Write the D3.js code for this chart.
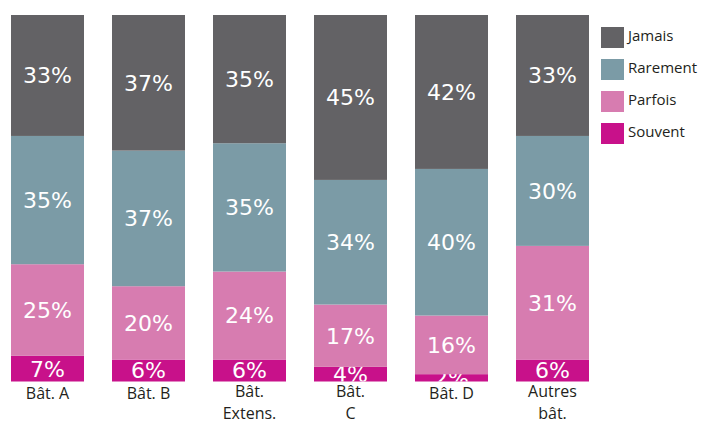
<!DOCTYPE html>
<head>
  <meta charset="utf-8">
  <title>Fréquence par bâtiment</title>
</head>
<style>
body {
  margin: 0;
  background: #fff;
}
.pct {
  font: 22px "DejaVu Sans", sans-serif;
  fill: #fff;
}
.cat, .leg {
  font-family: "Open Sans", sans-serif;
  fill: #231f20;
}
</style>
<body>
<div id="chart"></div>

<script src="https://d3js.org/d3.v7.min.js"></script>
<script>

// data
var categories = ["Bât. A", "Bât. B", "Bât. Extens.", "Bât. C", "Bât. D", "Autres bât."];
var catLines = [["Bât. A"], ["Bât. B"], ["Bât.", "Extens."], ["Bât.", "C"], ["Bât. D"], ["Autres", "bât."]];
var series = ["Souvent", "Parfois", "Rarement", "Jamais"];   // bottom -> top
var souvent  = [7, 6, 6, 4, 2, 6];
var parfois  = [25, 20, 24, 17, 16, 31];
var rarement = [35, 37, 35, 34, 40, 30];
var jamais   = [33, 37, 35, 45, 42, 33];
var colors = ["#c8118a", "#d77cb0", "#7b9ba6", "#636265"];
var legendOrder = ["Jamais", "Rarement", "Parfois", "Souvent"];

var width = 702, height = 423;

var svg = d3.select("#chart")
    .append("svg")
    .attr("width", width)
    .attr("height", height);

// build rows for the stack
var rows = categories.map(function(c, i) {
  return { cat: c, Souvent: souvent[i], Parfois: parfois[i], Rarement: rarement[i], Jamais: jamais[i] };
});
var stacked = d3.stack().keys(series)(rows);

var x = d3.scaleBand().domain(categories).range([11, 589]).paddingInner(28 / 101).paddingOuter(0);
var y = d3.scaleLinear().domain([0, 100]).range([381.5, 15]);
var color = d3.scaleOrdinal().domain(series).range(colors);

// one clip per column so labels of thin segments get cut at the bar edge
svg.append("defs")
  .selectAll("clipPath")
  .data(categories)
  .enter().append("clipPath")
    .attr("id", function(d, i) { return "clip" + i; })
  .append("rect")
    .attr("x", function(d) { return x(d); })
    .attr("width", x.bandwidth())
    .attr("y", y(100))
    .attr("height", y(0) - y(100));

var layers = svg.append("g")
  .selectAll("g")
  .data(stacked)
  .enter().append("g")
    .attr("fill", function(d) { return color(d.key); });

layers.selectAll("rect")
  .data(function(d) { return d; })
  .enter().append("rect")
    .attr("x", function(d) { return x(d.data.cat); })
    .attr("width", x.bandwidth())
    .attr("y", function(d) { return y(d[1]); })
    .attr("height", function(d) { return y(d[0]) - y(d[1]); });

// percent labels in the middle of each segment
layers.selectAll("text")
  .data(function(d) { return d; })
  .enter().append("text")
    .attr("class", "pct")
    .attr("clip-path", function(d) { return "url(#clip" + categories.indexOf(d.data.cat) + ")"; })
    .attr("x", function(d) { return x(d.data.cat) + x.bandwidth() / 2; })
    .attr("y", function(d) { return (y(d[0]) + y(d[1])) / 2; })
    .attr("dy", "0.36em")
    .attr("text-anchor", "middle")
    .text(function(d) { return (d[1] - d[0]) + "%"; });

// category labels under the bars
var cats = svg.append("g")
  .selectAll("text")
  .data(categories)
  .enter().append("text")
    .attr("class", "cat")
    .attr("text-anchor", "middle")
    .style("font-size", "16px")
    .attr("x", function(d) { return x(d) + x.bandwidth() / 2; })
    .attr("y", function(d, i) { return catLines[i].length > 1 ? 397 : 399; });

cats.selectAll("tspan")
  .data(function(d, i) { return catLines[i]; })
  .enter().append("tspan")
    .attr("x", function() { return this.parentNode.getAttribute("x"); })
    .attr("dy", function(d, j) { return j === 0 ? 0 : 22; })
    .text(function(d) { return d; });

// legend
var legend = svg.append("g")
  .selectAll("g")
  .data(legendOrder)
  .enter().append("g")
    .attr("transform", function(d, i) { return "translate(601," + (27 + i * 32) + ")"; });

legend.append("rect")
    .attr("width", 23)
    .attr("height", 21)
    .attr("fill", function(d) { return color(d); });

legend.append("text")
    .attr("class", "leg")
    .attr("x", 27)
    .attr("y", 13.5)
    .style("font-size", "15px")
    .text(function(d) { return d; });

</script>
</body>
